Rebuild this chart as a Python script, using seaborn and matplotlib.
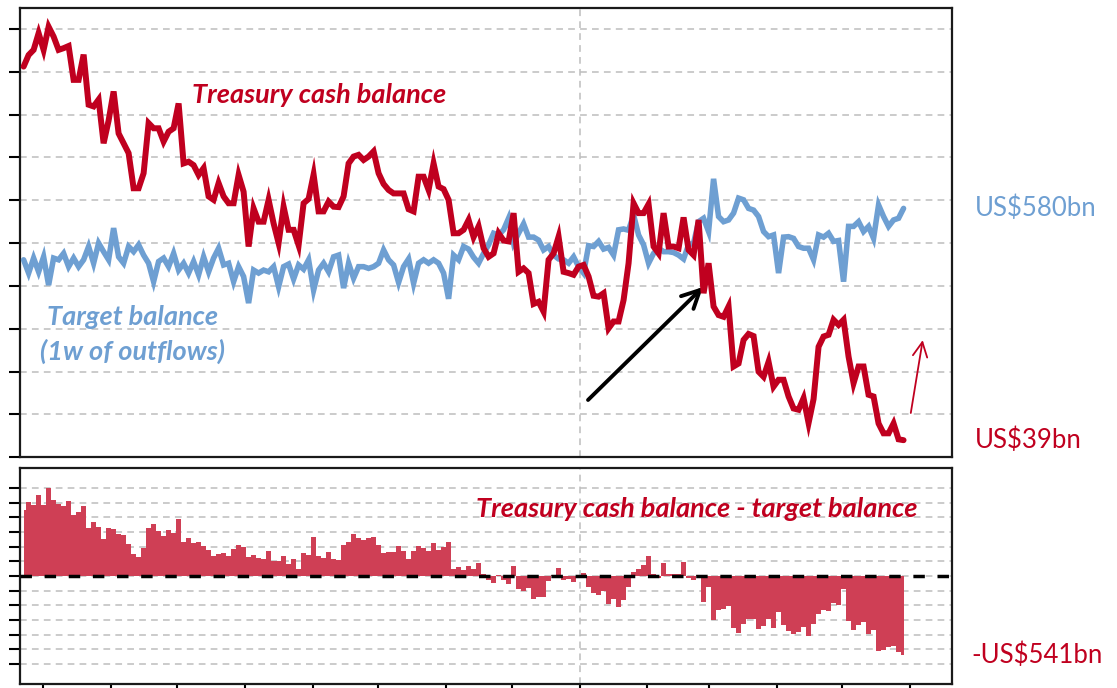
import numpy as np
import pandas as pd
import matplotlib.pyplot as plt
import matplotlib.dates as mdates
import seaborn as sns

# Treasury cash balance (US$bn), Apr-2022 .. end-May-2023
cash_balance = [
    912, 939, 951, 990, 951, 1005, 982, 951, 955, 960,
    881, 881, 940, 823, 819, 835, 733, 786, 854, 756,
    733, 710, 628, 628, 663, 780, 768, 768, 737, 760,
    768, 826, 686, 690, 682, 659, 675, 609, 601, 640,
    609, 593, 593, 659, 620, 492, 581, 550, 550, 601,
    546, 500, 585, 531, 531, 495, 593, 603, 660, 574,
    574, 597, 585,
    584, 609, 686, 702, 706, 694, 702, 714, 663, 638,
    624, 616, 616, 616, 579, 574, 655, 655, 624, 686,
    632, 626, 601, 523, 523, 531, 554, 514, 539, 488,
    468, 476, 523, 506, 504, 570, 433, 441, 430, 358,
    363, 340, 461, 476, 515, 433, 430, 426, 445, 449,
    422, 377, 375, 383, 301, 317, 317, 367, 453, 593,
    570,
    570, 591, 492, 476, 570, 492, 492, 488, 560, 484,
    472, 554, 383, 453, 352, 332, 328, 352, 212, 219,
    274, 288, 283, 200, 188, 223, 165, 181, 181, 142,
    114, 111, 138, 80, 136, 258, 282, 286, 321, 309,
    321, 235, 173, 212, 212, 146, 142, 79, 56, 56,
    79, 42, 40,
]

# Target balance = 1 week of outflows (US$bn)
target_balance = [
    461, 430, 465, 433, 468, 402, 465, 461, 476, 445,
    465, 445, 461, 492, 453, 500, 480, 461, 535, 468,
    453, 492, 480, 496, 472, 453, 410, 457, 465, 445,
    476, 437, 453, 430, 457, 426, 468, 433, 465, 488,
    449, 453, 410, 445, 422, 360, 437, 430, 437, 433,
    445, 398, 445, 451, 416, 449, 439, 461, 390, 437,
    453, 433, 468,
    472, 395, 453, 418, 445, 445, 441, 445, 453, 484,
    461, 449, 408, 445, 463, 406, 453, 461, 453, 461,
    453, 430, 370, 472, 461, 492, 486, 467, 453, 476,
    496, 523, 519, 531, 558, 500, 523, 545, 514, 514,
    507, 484, 492, 472, 463, 461, 453, 468, 445, 430,
    494, 492, 504, 486, 490, 472, 531, 533, 530, 566,
    519,
    496, 453, 476, 488, 480, 480, 478, 472, 463, 496,
    500, 550, 558, 527, 650, 562, 550, 554, 570, 605,
    601, 581, 577, 562, 527, 515, 519, 430, 514, 515,
    511, 492, 488, 488, 461, 519, 514, 523, 504, 506,
    410, 539, 539, 550, 527, 539, 511, 589, 562, 539,
    554, 558, 581,
]

start_date = '2022-04-22'
end_date = '2023-05-29'

RED = '#c0001f'
FILL_RED = '#cf3f55'
BLUE = '#6e9fd2'
GRID = '#bdbdbd'

df = pd.DataFrame({
    'date': pd.date_range(start_date, end_date, periods=len(cash_balance)),
    'cash': cash_balance,
    'target': target_balance,
})
df['gap'] = df['cash'] - df['target']

sns.set_style('white')
plt.rcParams['font.family'] = ['Lato', 'DejaVu Sans']

fig = plt.figure(figsize=(11.17, 6.88), dpi=100)
ax1 = fig.add_axes([0.0182, 0.3353, 0.8344, 0.6526])
ax2 = fig.add_axes([0.0182, 0.0058, 0.8344, 0.3135])

grid_ls = (0, (4.4, 3.4))
xmin, xmax = pd.Timestamp('2022-04-20 12:00'), pd.Timestamp('2023-06-20 07:00')

# --- top panel: cash vs target
sns.lineplot(data=df, x='date', y='target', ax=ax1, color=BLUE, lw=4.0, zorder=3,
             solid_joinstyle='miter')
sns.lineplot(data=df, x='date', y='cash', ax=ax1, color=RED, lw=4.3, zorder=4,
             solid_joinstyle='miter')
ax1.set_ylim(0, 1048)
ax1.set_yticks(np.arange(0, 1001, 100))

# --- bottom panel: difference
ax2.fill_between(df['date'], df['gap'], 0, step='mid', color=FILL_RED, lw=0, zorder=3)
ax2.axhline(0, color='black', lw=2.5, ls=(0, (3.3, 3.65)), zorder=4)
ax2.set_ylim(-738, 736)
ax2.set_yticks(np.arange(-600, 601, 100))
ax2.xaxis.set_major_locator(mdates.MonthLocator())

for ax in (ax1, ax2):
    ax.set_xlim(xmin, xmax)
    ax.set(xlabel='', ylabel='')
    ax.grid(axis='y', color=GRID, lw=1.1, linestyle=grid_ls)
    ax.set_axisbelow(True)
    ax.axvline(pd.Timestamp('2023-01-01'), color=GRID, lw=1.1, ls=grid_ls, zorder=1)
    ax.tick_params(axis='y', left=True, direction='out', length=8, width=1.5,
                   color='black', labelleft=False)
    for sp in ax.spines.values():
        sp.set_linewidth(1.6)
        sp.set_color('#1a1a1a')

ax1.tick_params(axis='x', bottom=False, labelbottom=False)
ax2.tick_params(axis='x', bottom=True, direction='out', length=8, width=1.5,
                color='black', labelbottom=False)

# --- annotations
lab = dict(fontweight='bold', style='italic', fontsize=19.5)
ax1.text(0.184, 0.807, 'Treasury cash balance', color=RED, ha='left', va='center',
         transform=ax1.transAxes, **lab)
ax1.text(0.12, 0.3125, 'Target balance', color=BLUE, ha='center', va='center',
         transform=ax1.transAxes, **lab)
ax1.text(0.12, 0.235, '(1w of outflows)', color=BLUE, ha='center', va='center',
         transform=ax1.transAxes, **lab)
ax2.text(0.963, 0.81, 'Treasury cash balance - target balance', color=RED, ha='right',
         va='center', transform=ax2.transAxes, **lab)

ax1.annotate('', xy=(0.7325, 0.3793), xytext=(0.6091, 0.1277), xycoords='axes fraction',
             arrowprops=dict(arrowstyle='->', lw=2.8, color='black', mutation_scale=32,
                             shrinkA=0, shrinkB=0))
ax1.annotate('', xy=(0.9682, 0.261), xytext=(0.9554, 0.0987), xycoords='axes fraction',
             arrowprops=dict(arrowstyle='->', lw=1.3, color=RED, mutation_scale=26,
                             shrinkA=0, shrinkB=0))

side = dict(fontsize=18.5, ha='left', va='center')
fig.text(0.873, 1 - 208 / 688, 'US$580bn', color=BLUE, **side)
fig.text(0.873, 1 - 440 / 688, 'US$39bn', color=RED, **side)
fig.text(0.870, 1 - 655 / 688, '-US$541bn', color=RED, **side)

fig.savefig('out.png', dpi=100)
